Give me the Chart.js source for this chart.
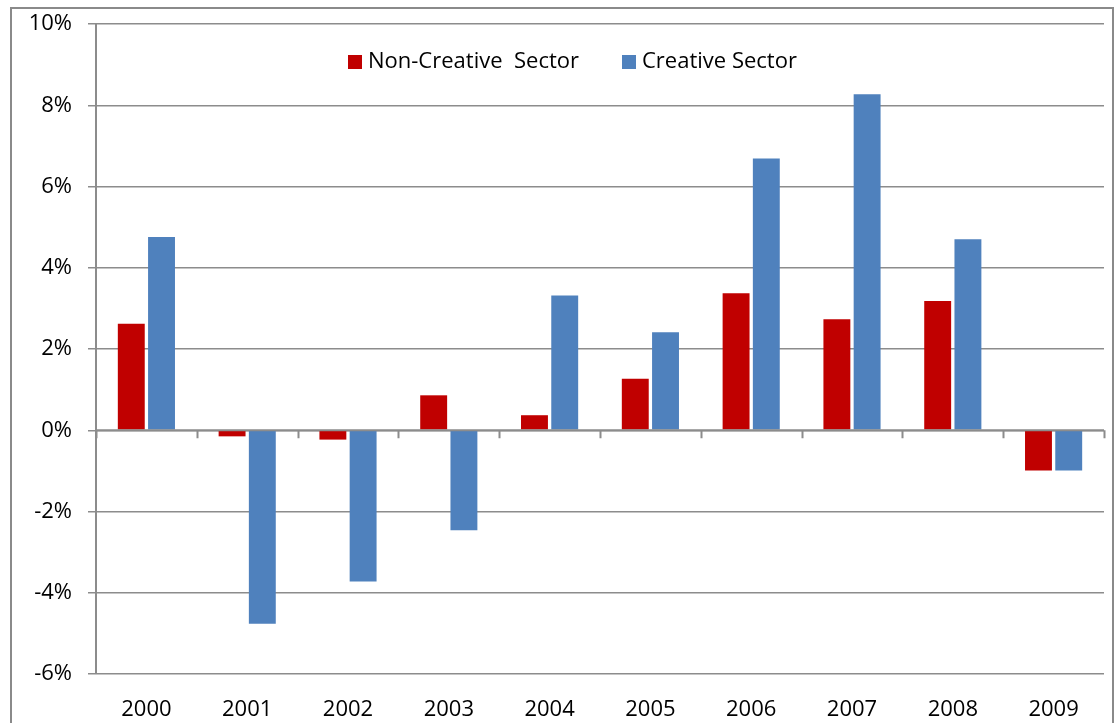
<!DOCTYPE html>
<html>
<head>
<meta charset="utf-8">
<script src="https://cdn.jsdelivr.net/npm/chart.js@4/dist/chart.umd.min.js"></script>
<style>
  html, body { margin: 0; padding: 0; background: #fff; overflow: hidden; }
  #frame {
    position: absolute; left: 10px; top: 7px;
    width: 1100px; height: 730px;
    border: 2px solid #8a8a8a; border-bottom: none;
  }
  canvas { display: block; }
  .legend {
    position: absolute; top: 44px;
    font-family: 'Open Sans', sans-serif; font-size: 22px; line-height: 30px;
    color: #000; white-space: pre;
  }
  .legend i {
    display: inline-block; width: 14px; height: 14px;
    margin-right: 6px; vertical-align: -1px;
  }
</style>
</head>
<body>
<div id="frame"><canvas id="chart" width="1100" height="716"></canvas></div>
<div id="legend"></div>
<script>
const years = ['2000', '2001', '2002', '2003', '2004', '2005', '2006', '2007', '2008', '2009'];
const nonCreative = [2.62, -0.15, -0.23, 0.86, 0.37, 1.27, 3.37, 2.73, 3.18, -0.99];
const creative = [4.76, -4.76, -3.72, -2.46, 3.32, 2.41, 6.69, 8.27, 4.70, -0.99];
const yTicks = [-6, -4, -2, 0, 2, 4, 6, 8, 10];

const gridGrey = '#8c8c8c';
const font = "'Open Sans', sans-serif";

// category boundary ticks hanging under the zero line (Excel style)
const zeroAxisTicks = {
    id: 'zeroAxisTicks',
    afterDatasetsDraw(chart) {
        const { ctx, scales: { x, y } } = chart;
        const y0 = y.getPixelForValue(0);
        ctx.save();
        ctx.strokeStyle = gridGrey;
        ctx.lineWidth = 2;
        ctx.beginPath();
        ctx.moveTo(x.left, y0);
        ctx.lineTo(x.right, y0);
        for (let i = 0; i <= years.length; i++) {
            const px = Math.round(x.getPixelForValue(i - 0.5)) + 0.5;
            ctx.moveTo(px, y0);
            ctx.lineTo(px, y0 + 8);
        }
        ctx.stroke();
        ctx.restore();
    }
};

const chart = new Chart(document.getElementById('chart'), {
    type: 'bar',
    data: {
        labels: years,
        datasets: [{
            label: 'Non-Creative  Sector',
            data: nonCreative,
            backgroundColor: '#c00000',
            borderWidth: 0
        }, {
            label: 'Creative Sector',
            data: creative,
            backgroundColor: '#4f81bd',
            borderWidth: 0
        }]
    },
    options: {
        responsive: false,
        animation: false,
        devicePixelRatio: 1,
        categoryPercentage: 0.6,
        barPercentage: 0.89,
        layout: { padding: { top: 15, right: 8, left: 0, bottom: 0 } },
        plugins: {
            tooltip: { enabled: false },
            legend: { display: false }
        },
        scales: {
            x: {
                afterFit(scale) { scale.height = 51; },
                grid: { display: false, drawTicks: false },
                border: { display: false },
                ticks: { color: '#000', padding: 23, font: { family: font, size: 22 } }
            },
            y: {
                min: -6,
                max: 10,
                afterFit(scale) {
                    scale.width = 84;
                    scale.paddingTop = 0;
                    scale.paddingBottom = 0;
                },
                afterBuildTicks(scale) { scale.ticks = yTicks.map(v => ({ value: v })); },
                grid: { color: gridGrey, lineWidth: 1.5, tickLength: 8 },
                border: { color: gridGrey, width: 2 },
                ticks: {
                    color: '#000',
                    padding: 16,
                    font: { family: font, size: 22 },
                    callback: v => v + '%'
                }
            }
        }
    },
    plugins: [zeroAxisTicks]
});

// legend as html text, placed inside the plot like the original
const legendLeft = [348, 622];
const legendBox = document.getElementById('legend');
chart.data.datasets.forEach((ds, i) => {
    const item = document.createElement('div');
    item.className = 'legend';
    item.style.left = legendLeft[i] + 'px';
    item.innerHTML = '<i style="background:' + ds.backgroundColor + '"></i>';
    item.appendChild(document.createTextNode(ds.label));
    legendBox.appendChild(item);
});
</script>
</body>
</html>
